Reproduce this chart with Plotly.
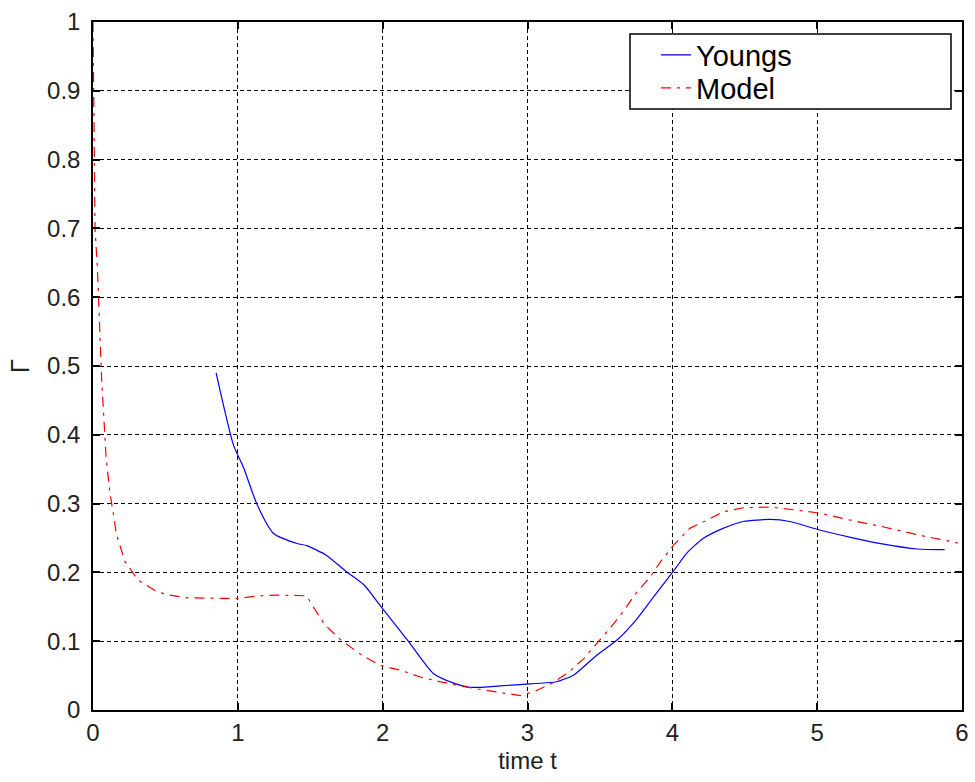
import plotly.graph_objects as go

# Youngs (blue solid)
youngs_t = [0.85, 0.97, 1.04, 1.13, 1.245, 1.41, 1.475, 1.61, 1.75, 1.87, 1.99, 2.17, 2.35, 2.49,
            2.60, 2.67, 2.81, 3.02, 3.20, 3.32, 3.48, 3.62, 3.75, 3.89, 4.01, 4.10, 4.21, 4.35,
            4.49, 4.68, 4.81, 5.01, 5.23, 5.46, 5.69, 5.88]
youngs_r = [0.49, 0.385, 0.352, 0.30, 0.257, 0.242, 0.239, 0.225, 0.201, 0.182, 0.150, 0.102, 0.053, 0.039,
            0.033, 0.033, 0.035, 0.038, 0.041, 0.051, 0.080, 0.102, 0.131, 0.170, 0.2025, 0.228, 0.249, 0.264,
            0.274, 0.277, 0.274, 0.262, 0.251, 0.241, 0.234, 0.233]

# Model (red dash-dot)
model_t = [0.0, 0.005, 0.014, 0.03, 0.044, 0.06, 0.09, 0.117, 0.14, 0.16, 0.22, 0.31, 0.44, 0.53, 0.65,
           0.83, 0.99, 1.15, 1.29, 1.475, 1.52, 1.60, 1.71, 1.84, 1.98, 2.12, 2.26, 2.40, 2.56, 2.70,
           2.88, 2.95, 3.05, 3.18, 3.29, 3.39, 3.50, 3.59, 3.66, 3.75, 3.85, 3.92, 4.01, 4.12, 4.24,
           4.35, 4.49, 4.68, 4.84, 5.02, 5.25, 5.46, 5.73, 5.97]
model_r = [1.0, 0.85, 0.70, 0.644, 0.572, 0.48, 0.368, 0.315, 0.286, 0.257, 0.216, 0.189, 0.172, 0.167, 0.163,
           0.163, 0.162, 0.166, 0.167, 0.166, 0.150, 0.124, 0.102, 0.082, 0.065, 0.058, 0.048, 0.041, 0.034, 0.029,
           0.024, 0.021, 0.027, 0.040, 0.056, 0.075, 0.102, 0.124, 0.143, 0.170, 0.194, 0.216, 0.240, 0.264, 0.276,
           0.288, 0.294, 0.295, 0.291, 0.286, 0.275, 0.266, 0.253, 0.243]

x_ticks = [0, 1, 2, 3, 4, 5, 6]
y_ticks = [0, 0.1, 0.2, 0.3, 0.4, 0.5, 0.6, 0.7, 0.8, 0.9, 1]
y_tick_text = ["0", "0.1", "0.2", "0.3", "0.4", "0.5", "0.6", "0.7", "0.8", "0.9", "1"]

FONT = "Liberation Sans, Arial, sans-serif"
L, R, T, B = 93, 962, 22, 710
PW, PH = R - L, B - T

fig = go.Figure()
fig.add_trace(go.Scatter(x=youngs_t, y=youngs_r, mode="lines", name="Youngs", legend="legend",
                         line=dict(color="#0000ff", width=1.2, shape="spline", smoothing=0.6)))
fig.add_trace(go.Scatter(x=model_t, y=model_r, mode="lines", name="Model", legend="legend2",
                         line=dict(color="#ff0000", width=1.2, dash="10px,6px,3px,6px")))

axis_common = dict(
    showline=True, linecolor="black", linewidth=1.5, mirror="ticks",
    ticks="inside", ticklen=7, tickcolor="black", tickwidth=1.5,
    showgrid=True, gridcolor="black", gridwidth=1, griddash="4px,3px",
    zeroline=False, automargin=False,
    tickfont=dict(family=FONT, size=24, color="#222222"),
)

fig.update_xaxes(range=[0, 6], tickvals=x_ticks, ticktext=[str(v) for v in x_ticks],
                 ticklabelstandoff=0,
                 title=dict(text="time t", standoff=8, font=dict(family=FONT, size=24, color="#222222")),
                 **axis_common)
fig.update_yaxes(range=[0, 1], tickvals=y_ticks, ticktext=y_tick_text,
                 ticklabelstandoff=6,
                 title=dict(text="Γ", standoff=10, font=dict(family=FONT, size=26, color="#222222")),
                 **axis_common)

# legend frame (drawn as a white box over the grid)
fig.add_shape(type="rect", xref="paper", yref="paper",
              x0=(630 - L) / PW, x1=(951 - L) / PW,
              y0=(B - 109) / PH, y1=(B - 34) / PH,
              fillcolor="white", line=dict(color="black", width=1.5), layer="above")

leg_common = dict(xanchor="left", yanchor="middle", bgcolor="rgba(0,0,0,0)", borderwidth=0,
                  font=dict(family=FONT, size=29, color="black"))

fig.update_layout(
    width=975, height=782,
    margin=dict(l=L, r=975 - R, t=T, b=782 - B),
    paper_bgcolor="white", plot_bgcolor="white",
    showlegend=True,
    legend=dict(x=(656 - L) / PW, y=(B - 55) / PH, **leg_common),
    legend2=dict(x=(656 - L) / PW, y=(B - 88) / PH, **leg_common),
)

fig.write_html("out.html")
